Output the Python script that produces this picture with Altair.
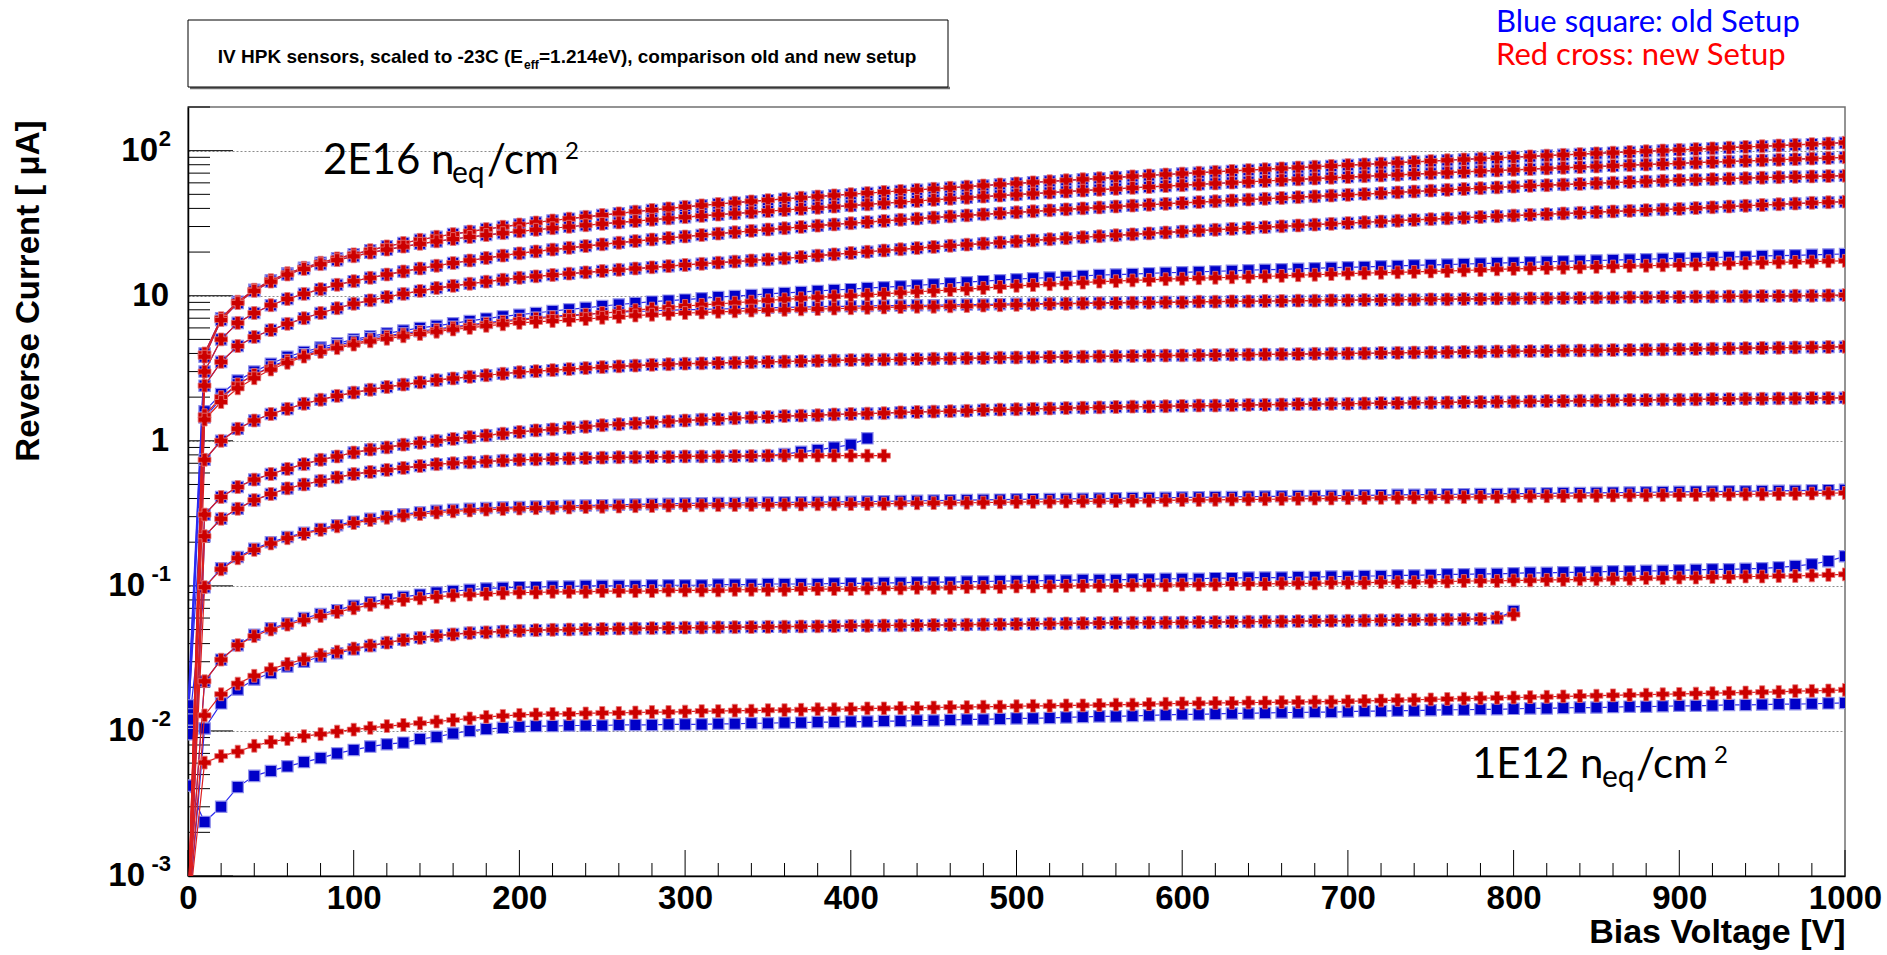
import altair as alt
import pandas as pd

NARROW = "Liberation Sans Narrow, Arial Narrow, Liberation Sans, Arial, sans-serif"
CAL = "Lato, Open Sans, sans-serif"
W, H = 1657, 769

# ---------------- data (bias voltage in V, current in uA) ----------------
V = list(range(0, 1001, 10))

A_old = [0.015,
         4.0, 7.0, 9.1, 11.0, 12.8, 14.3, 15.6, 16.9, 18.1, 19.3,
         20.6, 21.9, 23.1, 24.3, 25.5, 26.6, 27.7, 28.8, 29.9, 31.0,
         32.0, 33.0, 34.0, 35.0, 36.0, 37.0, 38.0, 39.0, 40.0, 41.0,
         42.0, 42.9, 43.8, 44.7, 45.6, 46.5, 47.4, 48.3, 49.2, 50.1,
         51.0, 51.9, 52.8, 53.7, 54.6, 55.5, 56.5, 57.5, 58.5, 59.5,
         60.5, 61.5, 62.5, 63.5, 64.5, 65.5, 66.5, 67.5, 68.5, 69.5,
         70.5, 71.5, 72.5, 73.5, 74.5, 75.5, 76.5, 77.5, 78.5, 79.5,
         80.5, 81.5, 82.6, 83.7, 84.8, 85.9, 87.0, 88.1, 89.2, 90.3,
         91.4, 92.5, 93.6, 94.7, 95.8, 96.9, 98.0, 99.1, 100.2, 101.3,
         102.5, 103.7, 104.9, 106.1, 107.3, 108.5, 109.7, 110.9, 112.1, 113.5]
A_new = [0.0005] + A_old[1:]

B_old = [0.013,
         3.8, 6.8, 8.9, 10.8, 12.5, 14.0, 15.3, 16.5, 17.6, 18.7,
         19.8, 20.8, 21.8, 22.8, 23.7, 24.6, 25.4, 26.2, 27.0, 27.8,
         28.5, 29.2, 29.9, 30.6, 31.3, 32.0, 32.7, 33.4, 34.1, 34.8,
         35.5, 36.2, 36.9, 37.6, 38.3, 39.0, 39.7, 40.4, 41.1, 41.8,
         42.6, 43.4, 44.2, 45.0, 45.8, 46.6, 47.4, 48.2, 49.0, 49.8,
         50.6, 51.4, 52.2, 53.0, 53.8, 54.6, 55.4, 56.2, 57.0, 57.8,
         58.6, 59.4, 60.2, 61.0, 61.8, 62.6, 63.4, 64.2, 65.0, 65.8,
         66.6, 67.4, 68.2, 69.0, 69.8, 70.6, 71.4, 72.2, 73.0, 73.8,
         74.6, 75.4, 76.2, 77.0, 77.8, 78.6, 79.4, 80.2, 81.0, 81.8,
         82.6, 83.4, 84.2, 85.0, 85.8, 86.6, 87.4, 88.2, 89.0, 90.0]
B_new = [0.0005] + B_old[1:]

C_old = [0.011,
         3.0, 5.0, 6.5, 7.6, 8.6, 9.5, 10.3, 11.1, 11.9, 12.6,
         13.3, 14.0, 14.7, 15.4, 16.1, 16.8, 17.5, 18.2, 18.9, 19.6,
         20.2, 20.8, 21.4, 22.0, 22.6, 23.2, 23.8, 24.4, 25.0, 25.6,
         26.2, 26.8, 27.4, 28.0, 28.6, 29.2, 29.8, 30.4, 31.0, 31.6,
         32.2, 32.8, 33.4, 34.0, 34.6, 35.2, 35.8, 36.4, 37.0, 37.6,
         38.2, 38.8, 39.4, 40.0, 40.6, 41.2, 41.8, 42.4, 43.0, 43.6,
         44.2, 44.8, 45.4, 46.0, 46.6, 47.2, 47.8, 48.4, 49.0, 49.6,
         50.2, 50.9, 51.6, 52.3, 53.0, 53.7, 54.4, 55.1, 55.8, 56.5,
         57.2, 57.8, 58.4, 59.0, 59.6, 60.2, 60.8, 61.4, 62.0, 62.6,
         63.1, 63.6, 64.1, 64.6, 65.1, 65.6, 66.0, 66.4, 66.8, 67.2]
C_new = [0.0005] + C_old[1:]

D_old = [0.010,
         2.4, 3.5, 4.5, 5.2, 5.8, 6.4, 7.0, 7.6, 8.2, 8.8,
         9.3, 9.8, 10.3, 10.8, 11.3, 11.7, 12.1, 12.5, 12.9, 13.3,
         13.6, 13.9, 14.2, 14.5, 14.8, 15.1, 15.4, 15.7, 16.0, 16.3,
         16.6, 16.9, 17.2, 17.5, 17.8, 18.1, 18.5, 18.9, 19.3, 19.7,
         20.1, 20.5, 20.9, 21.3, 21.7, 22.1, 22.5, 22.9, 23.3, 23.7,
         24.1, 24.5, 24.9, 25.3, 25.7, 26.1, 26.5, 26.9, 27.3, 27.7,
         28.1, 28.5, 28.9, 29.3, 29.7, 30.1, 30.5, 30.9, 31.3, 31.7,
         32.1, 32.5, 32.9, 33.3, 33.7, 34.1, 34.5, 34.9, 35.3, 35.7,
         36.1, 36.5, 36.9, 37.3, 37.7, 38.1, 38.5, 38.9, 39.3, 39.7,
         40.2, 40.7, 41.2, 41.7, 42.2, 42.7, 43.2, 43.7, 44.1, 44.5]
D_new = [0.0005] + D_old[1:]

E_old = [0.0005,
         1.6, 2.1, 2.6, 3.0, 3.4, 3.8, 4.1, 4.4, 4.7, 5.0,
         5.25, 5.5, 5.75, 6.0, 6.2, 6.45, 6.7, 6.95, 7.2, 7.4,
         7.6, 7.85, 8.05, 8.25, 8.5, 8.7, 8.9, 9.1, 9.25, 9.4,
         9.6, 9.8, 9.95, 10.1, 10.3, 10.45, 10.6, 10.8, 10.95, 11.1,
         11.3, 11.45, 11.6, 11.8, 12.0, 12.2, 12.4, 12.6, 12.8, 13.0,
         13.2, 13.35, 13.5, 13.7, 13.9, 14.0, 14.1, 14.25, 14.4, 14.5,
         14.6, 14.75, 14.85, 15.0, 15.1, 15.2, 15.35, 15.45, 15.6, 15.7,
         15.8, 15.95, 16.05, 16.2, 16.3, 16.4, 16.55, 16.65, 16.8, 16.9,
         17.0, 17.15, 17.25, 17.4, 17.5, 17.6, 17.75, 17.85, 18.0, 18.1,
         18.2, 18.35, 18.5, 18.6, 18.8, 18.9, 19.0, 19.15, 19.25, 19.4]
E_new = [0.0005,
         1.5, 2.0, 2.45, 2.85, 3.2, 3.55, 3.85, 4.15, 4.45, 4.7,
         4.95, 5.2, 5.4, 5.6, 5.8, 6.0, 6.2, 6.4, 6.6, 6.8,
         6.95, 7.1, 7.25, 7.4, 7.6, 7.75, 7.95, 8.15, 8.3, 8.5,
         8.65, 8.8, 8.95, 9.1, 9.3, 9.45, 9.6, 9.75, 9.9, 10.0,
         10.15, 10.3, 10.5, 10.65, 10.8, 10.95, 11.1, 11.3, 11.5, 11.7,
         11.85, 12.0, 12.15, 12.3, 12.5, 12.6, 12.75, 12.85, 13.0, 13.1,
         13.2, 13.3, 13.4, 13.5, 13.6, 13.7, 13.85, 13.95, 14.1, 14.2,
         14.3, 14.4, 14.5, 14.6, 14.7, 14.8, 14.95, 15.05, 15.2, 15.3,
         15.4, 15.5, 15.6, 15.7, 15.8, 15.9, 16.0, 16.1, 16.2, 16.3,
         16.4, 16.5, 16.65, 16.75, 16.9, 17.0, 17.1, 17.2, 17.3, 17.4]

F_old = [0.0005,
         1.45, 1.95, 2.45, 2.85, 3.25, 3.6, 3.95, 4.25, 4.55, 4.85,
         5.1, 5.3, 5.5, 5.7, 5.9, 6.1, 6.3, 6.5, 6.7, 6.9,
         7.05, 7.2, 7.35, 7.45, 7.6, 7.7, 7.8, 7.85, 7.95, 8.0,
         8.05, 8.1, 8.15, 8.2, 8.25, 8.3, 8.35, 8.4, 8.45, 8.45,
         8.5, 8.55, 8.55, 8.6, 8.6, 8.65, 8.7, 8.7, 8.75, 8.8,
         8.8, 8.85, 8.85, 8.9, 8.95, 8.95, 9.0, 9.0, 9.05, 9.05,
         9.1, 9.1, 9.15, 9.15, 9.2, 9.2, 9.25, 9.25, 9.3, 9.3,
         9.35, 9.35, 9.4, 9.4, 9.45, 9.45, 9.5, 9.5, 9.55, 9.55,
         9.6, 9.6, 9.65, 9.65, 9.7, 9.7, 9.75, 9.75, 9.8, 9.8,
         9.85, 9.85, 9.9, 9.9, 9.95, 9.95, 10.0, 10.0, 10.05, 10.1]
F_new = [0.0005,
         1.4, 1.85, 2.3, 2.7, 3.1, 3.45, 3.8, 4.1, 4.35, 4.6,
         4.85, 5.05, 5.25, 5.45, 5.65, 5.85, 6.0, 6.2, 6.35, 6.5,
         6.6, 6.7, 6.8, 6.9, 7.05, 7.15, 7.3, 7.4, 7.5, 7.6,
         7.65, 7.75, 7.8, 7.9, 7.95, 8.0, 8.05, 8.1, 8.15, 8.2,
         8.25, 8.3, 8.35, 8.4, 8.4, 8.45, 8.5, 8.55, 8.6, 8.65,
         8.7, 8.75, 8.8, 8.85, 8.85, 8.9, 8.95, 8.95, 9.0, 9.0] + F_old[61:]

G_old = [0.012,
         0.74, 1.0, 1.21, 1.38, 1.53, 1.66, 1.8, 1.92, 2.04, 2.15,
         2.25, 2.35, 2.44, 2.53, 2.62, 2.69, 2.76, 2.83, 2.9, 2.97,
         3.02, 3.07, 3.12, 3.17, 3.22, 3.26, 3.3, 3.34, 3.37, 3.4,
         3.42, 3.44, 3.46, 3.48, 3.5, 3.52, 3.54, 3.56, 3.58, 3.6,
         3.62, 3.63, 3.65, 3.66, 3.68, 3.69, 3.71, 3.72, 3.74, 3.75,
         3.76, 3.78, 3.79, 3.8, 3.82, 3.83, 3.84, 3.86, 3.87, 3.88,
         3.89, 3.9, 3.92, 3.93, 3.94, 3.95, 3.96, 3.98, 3.99, 4.0,
         4.01, 4.03, 4.04, 4.06, 4.07, 4.08, 4.1, 4.11, 4.13, 4.14,
         4.15, 4.16, 4.18, 4.19, 4.2, 4.22, 4.23, 4.25, 4.26, 4.28,
         4.3, 4.31, 4.33, 4.35, 4.36, 4.38, 4.4, 4.41, 4.43, 4.45]
G_new = [0.0005] + G_old[1:]

H_old = [0.0004,
         0.31, 0.41, 0.48, 0.54, 0.59, 0.64, 0.69, 0.74, 0.78, 0.83,
         0.87, 0.9, 0.94, 0.97, 1.0, 1.03, 1.06, 1.09, 1.12, 1.15,
         1.18, 1.2, 1.23, 1.25, 1.28, 1.3, 1.32, 1.34, 1.36, 1.38,
         1.4, 1.41, 1.43, 1.45, 1.46, 1.48, 1.49, 1.5, 1.52, 1.53,
         1.54, 1.55, 1.57, 1.58, 1.59, 1.6, 1.61, 1.63, 1.64, 1.65,
         1.66, 1.67, 1.68, 1.69, 1.7, 1.71, 1.72, 1.72, 1.73, 1.74,
         1.75, 1.75, 1.76, 1.77, 1.77, 1.78, 1.79, 1.79, 1.8, 1.8,
         1.81, 1.82, 1.82, 1.83, 1.83, 1.84, 1.85, 1.85, 1.86, 1.86,
         1.87, 1.88, 1.88, 1.89, 1.89, 1.9, 1.91, 1.91, 1.92, 1.92,
         1.93, 1.94, 1.94, 1.95, 1.95, 1.96, 1.96, 1.97, 1.97, 1.98]
H_new = [0.0005] + H_old[1:]

# stops at 410 V (old) / 420 V (new)
J_old = [0.0003,
         0.22, 0.29, 0.34, 0.39, 0.43, 0.47, 0.5, 0.53, 0.56, 0.59,
         0.61, 0.63, 0.65, 0.67, 0.69, 0.7, 0.71, 0.72, 0.73, 0.74,
         0.745, 0.75, 0.755, 0.76, 0.765, 0.77, 0.77, 0.775, 0.775, 0.78,
         0.78, 0.78, 0.785, 0.785, 0.79, 0.81, 0.84, 0.865, 0.9, 0.94,
         1.04]
J_new = J_old[:35] + [0.79, 0.79, 0.79, 0.79, 0.79, 0.79, 0.79, 0.79]

I_old = [0.0095,
         0.098, 0.132, 0.158, 0.18, 0.2, 0.217, 0.232, 0.247, 0.262, 0.277,
         0.29, 0.302, 0.312, 0.321, 0.329, 0.335, 0.34, 0.344, 0.347, 0.35,
         0.352, 0.354, 0.356, 0.358, 0.36, 0.362, 0.364, 0.366, 0.368, 0.37,
         0.371, 0.372, 0.373, 0.374, 0.375, 0.376, 0.377, 0.378, 0.379, 0.38,
         0.381, 0.383, 0.384, 0.386, 0.387, 0.389, 0.39, 0.392, 0.393, 0.395,
         0.396, 0.397, 0.398, 0.399, 0.4, 0.401, 0.403, 0.404, 0.405, 0.407,
         0.408, 0.409, 0.41, 0.412, 0.413, 0.414, 0.416, 0.417, 0.418, 0.42,
         0.421, 0.422, 0.424, 0.425, 0.426, 0.427, 0.428, 0.429, 0.43, 0.432,
         0.433, 0.434, 0.436, 0.437, 0.438, 0.439, 0.44, 0.442, 0.443, 0.445,
         0.446, 0.447, 0.448, 0.449, 0.45, 0.452, 0.453, 0.455, 0.457, 0.46]
I_new = [0.0005,
         0.098, 0.13, 0.155, 0.177, 0.196, 0.213, 0.228, 0.243, 0.257, 0.271,
         0.284, 0.295, 0.305, 0.313, 0.32, 0.326, 0.331, 0.335, 0.338, 0.341,
         0.343, 0.345, 0.347, 0.349, 0.351, 0.352, 0.354, 0.355, 0.357, 0.358,
         0.359, 0.36, 0.361, 0.362, 0.362, 0.363, 0.364, 0.365, 0.365, 0.366,
         0.367, 0.368, 0.37, 0.371, 0.372, 0.373, 0.374, 0.375, 0.377, 0.378,
         0.379, 0.38, 0.381, 0.382, 0.383, 0.384, 0.385, 0.386, 0.388, 0.39,
         0.391, 0.392, 0.393, 0.394, 0.395, 0.396, 0.398, 0.399, 0.4, 0.402,
         0.403, 0.404, 0.405, 0.406, 0.407, 0.408, 0.409, 0.41, 0.411, 0.413,
         0.414, 0.415, 0.416, 0.417, 0.418, 0.419, 0.42, 0.421, 0.422, 0.423,
         0.424, 0.425, 0.426, 0.427, 0.428, 0.43, 0.431, 0.433, 0.435, 0.437]

K_old = [0.0006,
         0.022, 0.031, 0.039, 0.046, 0.051, 0.055, 0.06, 0.064, 0.068, 0.073,
         0.077, 0.081, 0.084, 0.087, 0.09, 0.092, 0.094, 0.096, 0.097, 0.098,
         0.098, 0.099, 0.099, 0.1, 0.1, 0.1, 0.1, 0.101, 0.101, 0.101,
         0.101, 0.102, 0.102, 0.102, 0.103, 0.103, 0.103, 0.103, 0.104, 0.104,
         0.104, 0.105, 0.105, 0.106, 0.106, 0.106, 0.107, 0.107, 0.108, 0.108,
         0.108, 0.109, 0.109, 0.11, 0.11, 0.11, 0.111, 0.111, 0.112, 0.112,
         0.112, 0.113, 0.113, 0.114, 0.114, 0.114, 0.115, 0.115, 0.116, 0.116,
         0.117, 0.117, 0.118, 0.118, 0.119, 0.12, 0.12, 0.121, 0.121, 0.122,
         0.123, 0.123, 0.124, 0.124, 0.125, 0.126, 0.126, 0.127, 0.127, 0.128,
         0.129, 0.13, 0.13, 0.131, 0.132, 0.134, 0.137, 0.141, 0.148, 0.16]
K_new = [0.0006,
         0.022, 0.031, 0.039, 0.045, 0.05, 0.054, 0.058, 0.062, 0.066, 0.07,
         0.074, 0.077, 0.08, 0.082, 0.084, 0.086, 0.087, 0.088, 0.089, 0.09,
         0.09, 0.091, 0.091, 0.091, 0.092, 0.092, 0.092, 0.092, 0.093, 0.093,
         0.093, 0.093, 0.094, 0.094, 0.094, 0.094, 0.095, 0.095, 0.095, 0.095,
         0.096, 0.096, 0.096, 0.097, 0.097, 0.097, 0.098, 0.098, 0.098, 0.099,
         0.099, 0.099, 0.1, 0.1, 0.1, 0.1, 0.101, 0.101, 0.101, 0.102,
         0.102, 0.102, 0.103, 0.103, 0.103, 0.104, 0.104, 0.104, 0.105, 0.105,
         0.105, 0.106, 0.106, 0.106, 0.107, 0.107, 0.108, 0.108, 0.108, 0.109,
         0.109, 0.11, 0.11, 0.111, 0.111, 0.112, 0.112, 0.113, 0.113, 0.114,
         0.114, 0.115, 0.115, 0.116, 0.116, 0.117, 0.117, 0.118, 0.119, 0.12]

# stops at 800 V
L_old = [0.0005,
         0.0104, 0.0155, 0.0193, 0.0226, 0.0251, 0.0278, 0.03, 0.0326, 0.0343, 0.0365,
         0.0385, 0.0405, 0.0425, 0.044, 0.0455, 0.0465, 0.0475, 0.048, 0.0487, 0.0492,
         0.0495, 0.0498, 0.05, 0.0503, 0.0505, 0.0507, 0.0509, 0.0511, 0.0513, 0.0515,
         0.0516, 0.0518, 0.0519, 0.052, 0.0522, 0.0523, 0.0525, 0.0526, 0.0528, 0.053,
         0.0531, 0.0533, 0.0534, 0.0536, 0.0537, 0.0539, 0.054, 0.0542, 0.0543, 0.0545,
         0.0547, 0.0549, 0.0551, 0.0553, 0.0555, 0.0556, 0.0557, 0.0558, 0.0559, 0.056,
         0.0562, 0.0563, 0.0565, 0.0566, 0.0568, 0.0569, 0.0571, 0.0572, 0.0574, 0.0575,
         0.0577, 0.0579, 0.0581, 0.0583, 0.0585, 0.0587, 0.0589, 0.0591, 0.0597, 0.067]
L_new = ([0.0005,
          0.0128, 0.0179, 0.0212, 0.024, 0.0266, 0.029, 0.0312, 0.0335, 0.0352, 0.037,
          0.0388, 0.0406, 0.0424, 0.0438, 0.0452, 0.0462, 0.0472, 0.0478, 0.0485, 0.049]
         + L_old[21:79] + [0.0605, 0.0635])

# 1E12 sensor
M_old = [0.0042,
         0.00236, 0.003, 0.0041, 0.0049, 0.0053, 0.0057, 0.0061, 0.0065, 0.007, 0.0074,
         0.0078, 0.0081, 0.0083, 0.0088, 0.0091, 0.0096, 0.01, 0.0103, 0.0105, 0.0107,
         0.0108, 0.0108, 0.0109, 0.0109, 0.0109, 0.011, 0.011, 0.011, 0.0111, 0.0111,
         0.0111, 0.0112, 0.0112, 0.0113, 0.0113, 0.0114, 0.0114, 0.0115, 0.0115, 0.0116,
         0.0116, 0.0117, 0.0117, 0.0118, 0.0118, 0.0119, 0.012, 0.012, 0.0121, 0.0122,
         0.0122, 0.0123, 0.0124, 0.0125, 0.0126, 0.0126, 0.0127, 0.0128, 0.0129, 0.013,
         0.013, 0.0131, 0.0132, 0.0132, 0.0133, 0.0134, 0.0134, 0.0135, 0.0135, 0.0136,
         0.0137, 0.0137, 0.0138, 0.0138, 0.0139, 0.014, 0.014, 0.0141, 0.0141, 0.0142,
         0.0143, 0.0143, 0.0144, 0.0145, 0.0145, 0.0146, 0.0147, 0.0147, 0.0148, 0.0149,
         0.0149, 0.015, 0.0151, 0.0151, 0.0152, 0.0153, 0.0153, 0.0154, 0.0155, 0.0156]
M_new = [0.0005,
         0.00605, 0.0067, 0.0072, 0.0079, 0.0084, 0.0088, 0.0092, 0.0095, 0.0099, 0.0102,
         0.0105, 0.0108, 0.011, 0.0113, 0.0116, 0.0119, 0.0122, 0.0125, 0.0127, 0.0129,
         0.013, 0.0131, 0.0131, 0.0132, 0.0133, 0.0133, 0.0134, 0.0135, 0.0135, 0.0136,
         0.0137, 0.0137, 0.0138, 0.0138, 0.0139, 0.0139, 0.014, 0.0141, 0.0141, 0.0142,
         0.0143, 0.0143, 0.0144, 0.0144, 0.0145, 0.0146, 0.0146, 0.0147, 0.0147, 0.0148,
         0.0149, 0.0149, 0.015, 0.015, 0.0151, 0.0152, 0.0152, 0.0153, 0.0154, 0.0155,
         0.0155, 0.0156, 0.0156, 0.0157, 0.0157, 0.0158, 0.0158, 0.0159, 0.0159, 0.016,
         0.0161, 0.0162, 0.0163, 0.0164, 0.0165, 0.0166, 0.0167, 0.0168, 0.0169, 0.017,
         0.0171, 0.0172, 0.0173, 0.0174, 0.0175, 0.0176, 0.0177, 0.0178, 0.0179, 0.018,
         0.0181, 0.0182, 0.0183, 0.0184, 0.0185, 0.0186, 0.0188, 0.0189, 0.019, 0.0192]

SERIES = [("A", A_old, A_new), ("B", B_old, B_new), ("C", C_old, C_new),
          ("D", D_old, D_new), ("E", E_old, E_new), ("F", F_old, F_new),
          ("G", G_old, G_new), ("H", H_old, H_new), ("J", J_old, J_new),
          ("I", I_old, I_new), ("K", K_old, K_new), ("L", L_old, L_new),
          ("M", M_old, M_new)]

# tick labels / texts
X_LABELS = list(range(0, 1001, 100))
Y_LAB_VAL = [0.001, 0.01, 0.1, 1, 10, 100]
Y_LAB_BASE = ["10", "10", "10", "1", "10", "10"]
Y_LAB_EXP = ["-3", "-2", "-1", "", "", "2"]
TITLE_PARTS = ["IV HPK sensors, scaled to -23C (E", "eff", "=1.214eV), comparison old and new setup"]
LEGEND_TEXT = ["Blue square: old Setup", "Red cross: new Setup"]
ANN_HIGH = ["2E16 n", "eq", "/cm", "2"]
ANN_LOW = ["1E12 n", "eq", "/cm", "2"]

rows = []
for name, old, new in SERIES:
    for setup, vals in (("old", old), ("new", new)):
        for v, i in zip(V, vals):
            rows.append({"V": v, "I": i, "curve": name + "_" + setup, "setup": setup})
df = pd.DataFrame(rows)
df_old = df[df.setup == "old"]
df_new = df[df.setup == "new"]

# ---------------- scales / axes ----------------
xscale = alt.Scale(domain=[0, 1000], nice=False, zero=False)
yscale = alt.Scale(type="log", domain=[0.001, 200], nice=False)

xaxis = alt.Axis(values=X_LABELS, format="d", ticks=False, tickSize=0, grid=False,
                 labelFont=NARROW, labelFontSize=33, labelFontWeight="bold", labelColor="black",
                 labelPadding=6, labelFlush=False, labelOverlap=False,
                 domainColor="black", domainWidth=1.5,
                 title="Bias Voltage [V]", titleFont=NARROW, titleFontSize=34,
                 titleFontWeight="bold", titleColor="black",
                 titleX=W, titleY=66, titleAlign="right", titleBaseline="alphabetic")
yaxis = alt.Axis(values=Y_LAB_VAL, labels=False, ticks=False, tickSize=0, grid=True,
                 gridColor="#8c8c8c", gridDash=[2, 2], gridWidth=1,
                 domainColor="black", domainWidth=1.5,
                 title="Reverse Current [ \u03bcA]", titleFont=NARROW, titleFontSize=33,
                 titleFontWeight="bold", titleColor="black", titleAngle=270,
                 titleX=-150, titleY=13, titleAlign="right", titleBaseline="alphabetic")

X = alt.X("V:Q", scale=xscale, axis=xaxis)
Y = alt.Y("I:Q", scale=yscale, axis=yaxis)

# ---------------- data layers ----------------
blue_line = alt.Chart(df_old).mark_line(color="#2b2bf0", strokeWidth=1.2, clip=True).encode(
    x=X, y=Y, detail="curve:N")
blue_pts = alt.Chart(df_old).mark_point(shape="square", filled=True, fill="#0000c8", stroke="#9090ea",
                                        strokeWidth=1.2, size=128, opacity=1, clip=True).encode(x=X, y=Y)
red_line = alt.Chart(df_new).mark_line(color="#dd1f1f", strokeWidth=1.2, clip=True).encode(
    x=X, y=Y, detail="curve:N")
red_pts = alt.Chart(df_new).mark_point(shape="cross", filled=True, fill="#cc0000", stroke="#e87a7a",
                                       strokeWidth=0.8, size=165, opacity=1, clip=True).encode(x=X, y=Y)

# ---------------- inward ticks ----------------
yt_major = Y_LAB_VAL
yt_minor = [k * d for d in Y_LAB_VAL for k in range(2, 10) if k * d <= 200]
xt_major = X_LABELS
xt_minor = [v for v in range(0, 1001, 20) if v % 100]

ytick_major = alt.Chart(pd.DataFrame({"I": yt_major})).mark_rule(color="black", strokeWidth=1).encode(
    y=Y, x=alt.value(0), x2=alt.value(45))
ytick_minor = alt.Chart(pd.DataFrame({"I": yt_minor})).mark_rule(color="black", strokeWidth=1).encode(
    y=Y, x=alt.value(0), x2=alt.value(22))
xtick_major = alt.Chart(pd.DataFrame({"V": xt_major})).mark_rule(color="black", strokeWidth=1).encode(
    x=X, y=alt.value(H), y2=alt.value(H - 26))
xtick_minor = alt.Chart(pd.DataFrame({"V": xt_minor})).mark_rule(color="black", strokeWidth=1).encode(
    x=X, y=alt.value(H), y2=alt.value(H - 13))

# ---------------- y tick labels (10 with exponent) ----------------
ylab = pd.DataFrame({"I": Y_LAB_VAL, "base": Y_LAB_BASE, "exp": Y_LAB_EXP})
def ybase(flt, xpos):
    return alt.Chart(ylab).transform_filter(flt).mark_text(
        align="right", baseline="middle", font=NARROW, fontSize=33, fontWeight="bold", color="black"
    ).encode(y=Y, x=alt.value(xpos), text="base:N")
ylab_layers = [
    ybase("datum.exp == ''", -19),
    ybase("length(datum.exp) == 1", -30),
    ybase("length(datum.exp) == 2", -43),
    alt.Chart(ylab).transform_filter("datum.exp != ''").mark_text(
        align="right", baseline="middle", font=NARROW, fontSize=22, fontWeight="bold", color="black", dy=-12
    ).encode(y=Y, x=alt.value(-17), text="exp:N"),
]

# ---------------- free text ----------------
def txt(s, x, y, size, font=CAL, color="black", weight="normal", align="left", baseline="alphabetic"):
    return alt.Chart(pd.DataFrame({"t": [s]})).mark_text(
        align=align, baseline=baseline, font=font, fontSize=size, fontWeight=weight, color=color
    ).encode(text="t:N", x=alt.value(x), y=alt.value(y))

box = alt.Chart(pd.DataFrame({"t": [0]})).mark_rect(fill="white", stroke="black", strokeWidth=1).encode(
    x=alt.value(0), x2=alt.value(760), y=alt.value(-87), y2=alt.value(-20))
box_shadow = alt.Chart(pd.DataFrame({"t": [0]})).mark_rule(color="#6e6e6e", strokeWidth=2.5).encode(
    x=alt.value(2), x2=alt.value(762), y=alt.value(-19))

title_layers = [
    txt(TITLE_PARTS[0], 335, -44, 19, font=NARROW, weight="bold", align="right"),
    txt(TITLE_PARTS[1], 336, -38, 12, font=NARROW, weight="bold"),
    txt(TITLE_PARTS[2], 351, -44, 19, font=NARROW, weight="bold"),
]
legend_layers = [
    txt(LEGEND_TEXT[0], 1308, -75, 31, color="#0000ff"),
    txt(LEGEND_TEXT[1], 1308, -42, 31, color="#ff0000"),
]
ann_layers = [
    txt(ANN_HIGH[0], 135, 67, 42), txt(ANN_HIGH[1], 264, 76, 30),
    txt(ANN_HIGH[2], 299, 67, 42), txt(ANN_HIGH[3], 377, 52, 24),
    txt(ANN_LOW[0], 1284, 671, 42), txt(ANN_LOW[1], 1414, 680, 30),
    txt(ANN_LOW[2], 1448, 671, 42), txt(ANN_LOW[3], 1526, 656, 24),
]

chart = alt.layer(
    ytick_minor, ytick_major, xtick_minor, xtick_major,
    blue_line, blue_pts, red_line, red_pts,
    *ylab_layers, box_shadow, box, *title_layers, *legend_layers, *ann_layers
).properties(
    width=W, height=H,
    autosize=alt.AutoSizeParams(type="none"),
    padding={"left": 188, "top": 107, "right": 42, "bottom": 79},
    background="white",
).configure_view(stroke="#707070", strokeWidth=1.5)

chart.save("out.html", embed_options={"renderer": "svg", "actions": False})
